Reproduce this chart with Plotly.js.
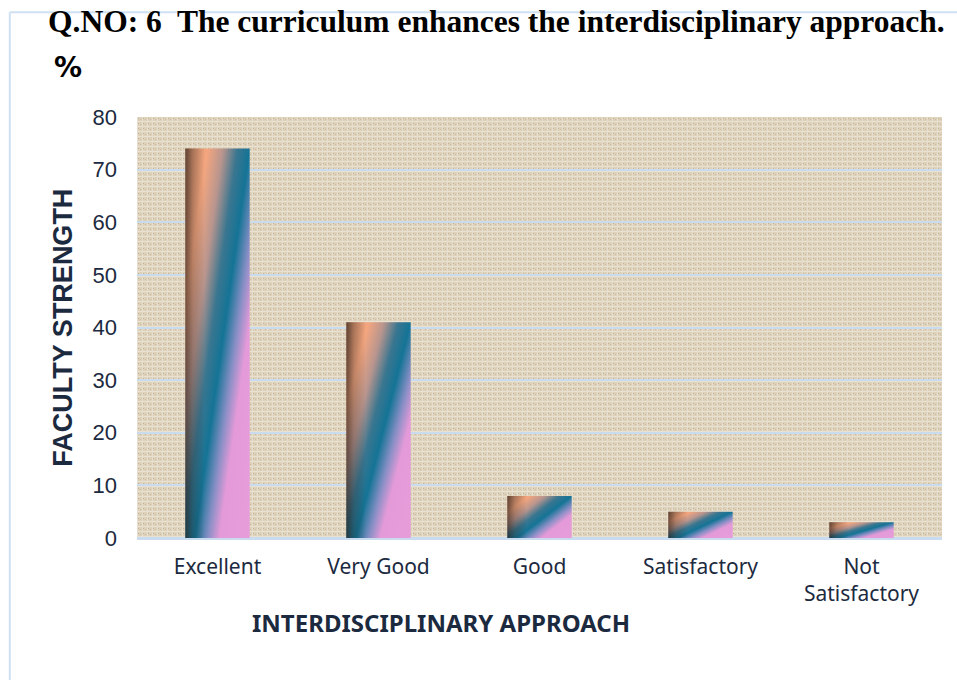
<!DOCTYPE html>
<html>
<head>
<meta charset="utf-8">
<script src="https://cdn.plot.ly/plotly-3.0.1.min.js"></script>
<style>
  html, body { margin: 0; padding: 0; background: #fff; }
  #chart { width: 957px; height: 680px; }
</style>
</head>
<body>
<div id="chart"></div>
<script>
  // ====== Data ======
  var categories = ['Excellent', 'Very Good', 'Good', 'Satisfactory', 'Not<br>Satisfactory'];
  var percents = [74, 41, 8, 5, 3];
  var yTicks = [0, 10, 20, 30, 40, 50, 60, 70, 80];

  var navy = '#1c2a40';
  var gridBlue = '#c9dcef';

  var trace = {
    x: categories, y: percents, type: 'bar',
    marker: { color: '#1b7696', line: { width: 0 } },
    hoverinfo: 'x+y'
  };

  var layout = {
    width: 957, height: 680,
    margin: { l: 137, r: 15, t: 117, b: 142 },
    paper_bgcolor: '#ffffff',
    plot_bgcolor: '#dccfb7',
    showlegend: false,
    bargap: 0.6,
    font: { family: 'Liberation Sans, Arial, sans-serif', color: navy },
    xaxis: {
      type: 'category',
      tickfont: { family: 'Noto Sans, Liberation Sans, sans-serif', size: 21, color: navy },
      showgrid: false, zeroline: false, showline: false, ticks: '',
      ticklabelstandoff: 14
    },
    yaxis: {
      range: [0, 80], tickmode: 'array', tickvals: yTicks, ticktext: yTicks.map(String),
      tickfont: { family: 'Liberation Sans, Arial, sans-serif', size: 22, color: navy },
      showgrid: true, gridcolor: gridBlue, gridwidth: 2,
      zeroline: true, zerolinecolor: gridBlue, zerolinewidth: 3,
      showline: false, ticks: '',
      ticklabelstandoff: 19
    },
    annotations: [
      {
        text: '<b>Q.NO: 6&nbsp; The curriculum enhances the interdisciplinary approach.</b>',
        xref: 'paper', yref: 'paper', x: -0.113, y: 1.2265,
        xanchor: 'left', yanchor: 'middle', showarrow: false,
        font: { family: 'Liberation Serif, Times New Roman, serif', size: 31.5, color: '#000' }
      },
      {
        text: '<b>%</b>',
        xref: 'paper', yref: 'paper', x: -0.086, y: 1.117,
        xanchor: 'center', yanchor: 'middle', showarrow: false,
        font: { family: 'DejaVu Sans, sans-serif', size: 28, color: '#000' }
      },
      {
        text: '<b>FACULTY STRENGTH</b>',
        xref: 'paper', yref: 'paper', x: -0.093, y: 0.5,
        xanchor: 'center', yanchor: 'middle', textangle: -90, showarrow: false,
        font: { family: 'Liberation Sans, Arial, sans-serif', size: 27, color: navy }
      },
      {
        text: '<b>INTERDISCIPLINARY APPROACH</b>',
        xref: 'paper', yref: 'paper', x: 0.378, y: -0.2,
        xanchor: 'center', yanchor: 'middle', showarrow: false,
        font: { family: 'Noto Sans, Liberation Sans, sans-serif', size: 24, color: navy }
      }
    ],
    shapes: [
      { type: 'line', xref: 'paper', yref: 'paper', x0: -0.158, x1: -0.158, y0: 1.249, y1: -0.34,
        line: { color: '#cfe0f3', width: 2 } },
      { type: 'line', xref: 'paper', yref: 'paper', x0: -0.158, x1: 1.02, y0: 1.249, y1: 1.249,
        line: { color: '#cfe0f3', width: 2 } }
    ]
  };

  var ns = 'http://www.w3.org/2000/svg';
  function makeGradient(id, x2, y2, stops) {
    var grad = document.createElementNS(ns, 'linearGradient');
    grad.setAttribute('id', id);
    grad.setAttribute('x1', '0'); grad.setAttribute('y1', '0');
    grad.setAttribute('x2', x2); grad.setAttribute('y2', y2);
    stops.forEach(function (s) {
      var st = document.createElementNS(ns, 'stop');
      st.setAttribute('offset', s[0]);
      st.setAttribute('stop-color', s[1]);
      if (s[2] !== undefined) st.setAttribute('stop-opacity', s[2]);
      grad.appendChild(st);
    });
    return grad;
  }

  function applyStyling(gd) {
    var svg = gd.querySelector('svg.main-svg');
    var defs = svg.querySelector('defs');

    // diagonal colour ramp of the bars
    defs.appendChild(makeGradient('barGrad', '1', '0.85', [
      [0, '#c98a68'], [0.2, '#f4a67f'], [0.34, '#b8958e'], [0.47, '#3a7690'],
      [0.58, '#147496'], [0.7, '#8a8fc6'], [0.8, '#e49ad8'], [1, '#e69cd9']
    ]));
    // dark shading along the left edge
    defs.appendChild(makeGradient('edgeGrad', '1', '0', [
      [0, '#1a1410', 0.6], [0.12, '#1a1410', 0.25], [0.3, '#1a1410', 0]
    ]));

    gd.querySelectorAll('.bars path').forEach(function (p) {
      p.style.fill = 'url(#barGrad)';
      var shade = p.cloneNode(true);
      shade.style.fill = 'url(#edgeGrad)';
      shade.style.pointerEvents = 'none';
      p.parentNode.appendChild(shade);
    });

    // canvas-like texture for the plot background
    var pat = document.createElementNS(ns, 'pattern');
    pat.setAttribute('id', 'canvasTex');
    pat.setAttribute('patternUnits', 'userSpaceOnUse');
    pat.setAttribute('width', '5'); pat.setAttribute('height', '5');
    [{ x: 0, y: 0, width: 5, height: 5, fill: '#ddd1ba' },
     { x: 0, y: 1, width: 5, height: 1, fill: '#e9e2d2' },
     { x: 2, y: 0, width: 1, height: 5, fill: '#e6dece' },
     { x: 3, y: 3, width: 1, height: 1, fill: '#c2b399' },
     { x: 0, y: 4, width: 1, height: 1, fill: '#cbbda3' }
    ].forEach(function (d) {
      var el = document.createElementNS(ns, 'rect');
      Object.keys(d).forEach(function (k) { el.setAttribute(k, d[k]); });
      pat.appendChild(el);
    });
    defs.appendChild(pat);
    var bg = svg.querySelector('.bglayer rect.bg');
    if (bg) bg.style.fill = 'url(#canvasTex)';
  }

  Plotly.newPlot('chart', [trace], layout, { displayModeBar: false }).then(applyStyling);
</script>
</body>
</html>
